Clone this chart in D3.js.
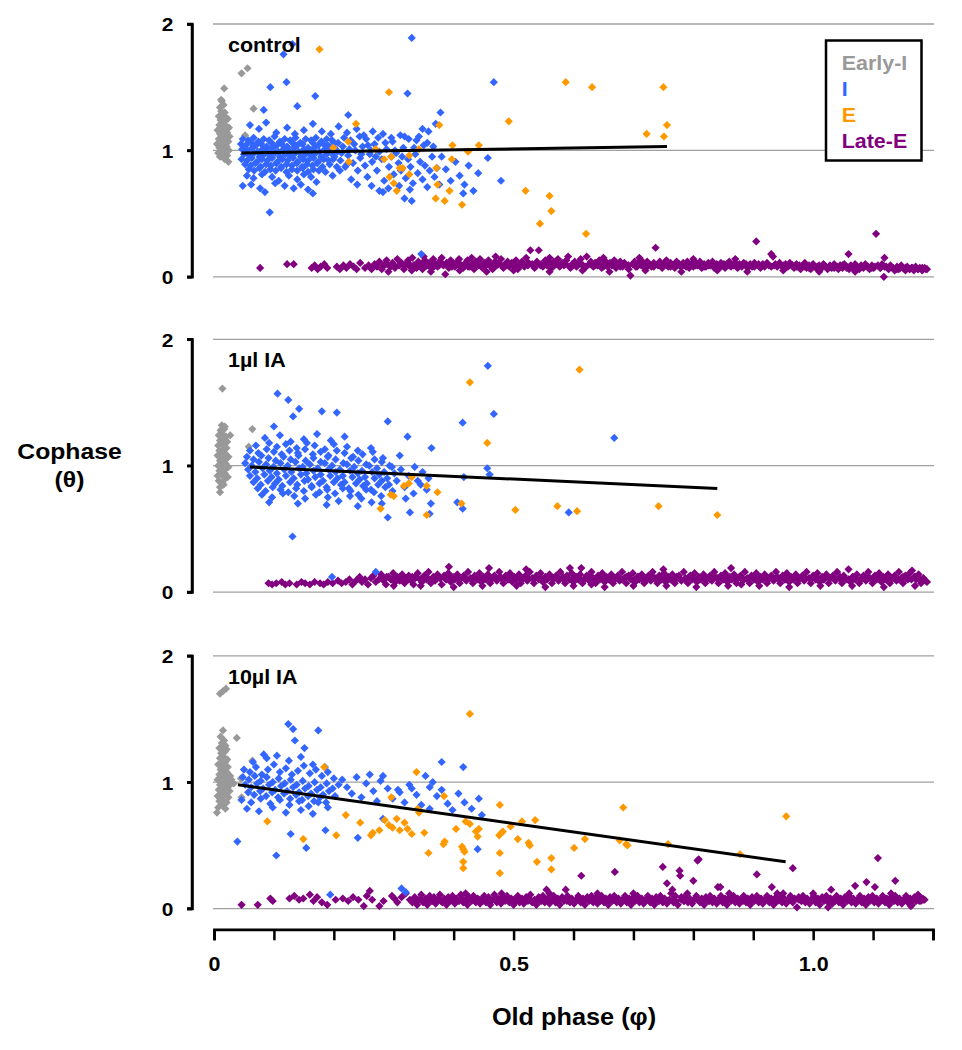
<!DOCTYPE html>
<html>
<head>
<meta charset="utf-8">
<script src="https://cdn.jsdelivr.net/npm/d3@7"></script>
<style>
  html, body { margin: 0; padding: 0; background: #fff; overflow: hidden; }
  svg { display: block; }
  text { font-family: 'Liberation Sans', Arial, sans-serif; font-weight: bold; }
</style>
</head>
<body>
<div id="container"></div>
<script>
// points are written "x,y" : x in thousandths of phase, y in hundredths of cophase
function pairs(s) {
  return s.trim().split(/\s+/).map((p) => {
    const [a, b] = p.split(',');
    return [+a / 1000, +b / 100];
  });
}

const panelNames = ['control', '1µl IA', '10µl IA'];
const seriesNames = ['Early-I', 'I', 'E', 'Late-E'];
const xTicks = [0, 0.1, 0.2, 0.3, 0.4, 0.5, 0.6, 0.7, 0.8, 0.9, 1.0, 1.1, 1.2];
const xTickLabels = { 0: '0', 0.5: '0.5', 1: '1.0' };
const yTicks = [0, 1, 2];

// ---- control ----
const ctrlEarlyI = pairs(`10,95 16,94 22,96 7,98 13,99 19,97 25,100 9,102 15,101 21,103 5,105 12,106
 18,104 24,107 8,109 14,108 20,110 26,111 10,113 16,112 22,114 6,116 12,117 19,115 25,118 9,120 15,121
 21,119 11,124 17,123 23,125 8,127 14,128 20,126 12,131 18,130 10,134 16,136 13,139 12,140 17,149
 46,161 56,165 66,133 24,91 18,93 52,112`);
const ctrlI = pairs(`116,176 131,184 330,189 94,150 121,154 169,143 323,145 139,135 83,132 224,128 378,130
 370,121 348,117 358,115 467,154 479,76 93,51 416,66 330,60 318,62 282,67 276,68 346,18
 60,120 75,117 87,122 104,114 122,118 135,113 150,116 165,121 180,115 195,113 208,119 222,114 238,117
 250,112 265,115 282,113 296,110 311,112 325,109 342,111 356,106 366,103
 48,109 57,108 66,110 74,107 83,109 92,108 101,111 110,107 118,109 127,108 136,110 144,106 153,109
 162,108 170,110 179,107 188,109
 45,105 53,104 62,106 70,104 79,105 88,103 96,106 105,104 113,105 122,103 131,106 139,104 148,105
 157,102 165,106 174,104 183,105 192,103
 47,101 56,100 64,102 73,99 81,101 90,100 98,102 107,99 116,101 124,100 133,102 141,99 150,101
 159,100 167,102 176,99 185,101 194,100
 50,97 59,96 67,98 76,95 84,97 93,96 102,98 110,95 119,97 127,96 136,98 145,95 153,97 162,96
 170,98 179,95 188,97
 46,93 55,92 63,94 72,91 80,93 89,92 97,94 106,91 114,93 123,92 132,94 140,91 149,93 157,92
 166,94 174,91 183,93 191,92
 52,89 61,88 69,90 78,87 87,89 95,88 104,90 112,87 121,89 130,88 138,90 147,87 155,89 164,88
 172,90 181,87
 58,85 67,84 76,86 85,83 94,85 103,84 112,86 121,83 130,85 139,84 148,86 157,83 166,85 175,84
 55,80 66,78 80,81 97,79 108,76 125,80 139,77 150,81 162,79 171,75
 48,72 62,73 77,70 85,67 102,74 118,72 133,70 145,73 157,69 165,66
 190,104 196,98 199,93 203,101 205,87 197,108 193,89 201,95 207,106 213,98 217,110 226,101 234,105
 246,97 254,109 262,100 270,95 286,106 302,100 314,95 334,102 186,83 198,80 210,84 222,89
 200,106 206,99 211,92 215,103 219,87 224,96 228,108 232,90 236,100 240,84 244,94 248,103 252,88
 256,79 260,97 264,91 268,105 272,84 276,99 280,93 284,76 288,101 292,87 296,95 300,81 304,98
 308,90 312,84 316,102 320,78 324,93 328,87 332,74 336,97 340,82 344,91 348,77 352,88 356,71
 360,84 364,95 368,79 372,86 376,73 350,104 338,108 318,111 298,107 274,110 257,104 243,111
 229,77 239,73 263,72 291,70 309,72 327,69 380,95 387,85 395,76 403,91 410,80 418,73 425,88
 433,68 441,82 457,94`);
const ctrlE = pairs(`176,180 292,146 237,121 376,120 199,102 224,107 225,91 270,101 284,93 296,95 342,101
 326,96 310,86 315,86 326,81 293,79 305,68 300,74 371,86 373,73 370,62 385,60 393,68 414,57 398,104
 397,93 424,99 442,104 587,154 631,150 750,150 492,123 722,113 756,120 751,111 520,68 560,64 563,52
 544,42 621,34`);
const ctrlLateE = pairs(`77,7 122,10 133,10 163,7 168,9 173,6 178,8 184,10 189,7 205,8 210,6 216,9 221,7
 227,10 233,8 238,6 244,11 252,7 258,9 263,6 268,10 272,8 276,12 280,6 284,9 288,13 291,4 295,8
 298,11 302,7 306,14 309,9 313,11 317,6 320,10 324,13 327,8 331,15 334,9 338,7 341,12 345,10 348,6
 352,13 355,9 359,11 362,7 366,14 369,10 373,8 376,12 380,15 383,9 386,2 388,11 392,7 395,13 399,10
 402,8 406,12 409,14 413,9 416,7 420,11 423,13 427,8 430,10 434,6 437,12 441,9 444,14 448,7 451,11
 455,10 458,13 462,8 465,6 469,12 472,9 476,11 479,14 483,7 486,10 490,12 493,8 497,11 500,9 504,13
 507,6 511,10 514,12 518,8 521,15 525,11 528,21 532,9 535,7 539,12 542,21 546,10 549,8 553,13 556,9
 560,11 563,7 567,12 570,10 574,14 577,8 581,11 584,9 588,13 591,16 595,7 598,10 602,12 605,8 609,11
 612,14 616,9 619,7 622,16 626,10 629,12 633,8 636,11 640,9 643,13 647,7 650,10 654,12 657,8 661,11
 664,9 668,13 671,7 675,10 678,12 682,8 685,11 689,9 692,6 695,1 699,10 702,12 706,8 709,11 713,13
 716,9 720,7 723,12 727,10 730,8 734,11 737,23 741,9 744,12 748,7 751,10 755,13 758,8 762,11 765,9
 769,7 772,12 776,10 779,8 783,11 786,9 790,12 793,7 797,10 800,8 804,11 807,9 811,12 814,7 818,10
 821,8 825,11 828,9 832,12 835,7 839,10 842,8 846,11 849,9 853,7 856,10 860,12 863,8 867,9 870,11
 874,7 877,10 881,8 884,11 888,9 891,7 895,10 898,8 902,11 905,28 909,9 912,7 916,10 919,8 923,11
 926,9 930,18 933,16 937,10 940,8 944,11 947,9 951,7 954,10 958,8 961,11 965,9 968,7 972,10 975,8
 979,6 982,9 986,11 989,7 993,9 996,6 1000,10 1003,8 1007,6 1010,9 1014,7 1017,10 1021,8 1024,6
 1028,9 1031,7 1035,10 1038,8 1042,6 1045,9 1049,7 1052,10 1056,8 1059,18 1060,6 1063,9 1066,7
 1070,10 1073,8 1077,6 1080,9 1084,7 1087,10 1091,8 1094,6 1098,9 1101,7 1105,34 1108,9 1112,7
 1115,10 1118,0 1119,15 1122,8 1126,6 1129,9 1133,7 1136,5 1140,8 1143,6 1147,9 1150,7 1154,5
 1157,8 1161,6 1164,7 1168,5 1171,8 1175,6 1178,7 1182,5 1186,7 1190,6
 330,5 362,4 410,5 455,4 500,5 560,4 615,5 660,4 720,5 780,4 840,5 890,4 950,5 1010,4 1070,4
 350,16 430,15 470,16 560,15 650,15 710,15 800,14 870,14
 283,9 289,10 297,9 303,8 311,10 317,9 326,10 333,9 339,8 347,10 354,9 361,10 367,8 376,9 382,10
 389,9 397,8 403,10 410,9 419,10 424,8 432,9 439,10 447,9 452,8 461,10 468,9 474,10 482,8 489,9
 495,10 503,9 510,8 515,10 524,9 531,10 536,8 545,9 552,10 557,9 566,8 573,10 578,9 587,10 594,8
 599,9 608,10 615,9 620,8 629,10 636,9 641,10 650,8 657,9 662,10 671,9 678,8 683,10 692,9 699,10
 704,8 713,9 720,10 725,9 734,8 741,10 746,9 755,10 762,8 767,9 776,10 783,9 788,8 797,10 804,9
 809,10 818,8 825,9 830,10 839,9 846,8 851,10 860,9 867,10 872,8 881,9 888,10 893,9 902,8 909,10
 914,9 923,10 930,8 935,9 944,10 951,9 956,8 965,9 972,8 977,9 986,8 993,7 998,9 1007,8 1014,7
 1019,9 1028,8 1035,7 1040,8 1049,9 1056,7 1061,8 1070,8 1077,7 1082,8 1091,8 1098,7 1103,8 1112,7
 1119,8 1124,7 1133,7 1140,6 1145,7 1154,7 1161,6 1166,7 1175,6 1182,7 1188,6`);

// ---- 1µl IA ----
const ia1EarlyI = pairs(`8,88 14,87 19,90 6,92 12,93 18,94 23,91 9,96 15,97 21,98 7,100 13,101 19,102
 24,99 10,104 16,105 22,106 6,108 12,109 18,110 24,107 9,112 15,113 21,114 7,116 13,117 19,118 10,120
 16,121 22,119 8,124 14,125 20,123 11,128 17,129 13,132 18,131 10,83 16,85 14,161 10,79 27,124 64,129
 58,115`);
const ia1I = pairs(`106,157 124,152 142,145 180,143 205,142 132,139 100,131 290,135 323,123 363,114
 415,134 457,179 467,141 668,122 456,98 460,93 592,63 406,71 415,66 417,91 131,44 290,59 327,63
 360,62 197,12 270,16
 85,122 110,124 128,119 150,121 172,125 195,120 218,123
 70,116 92,118 105,115 120,117 138,114 155,118 168,116 185,113 200,117 222,115 240,112 262,114
 60,112 74,110 88,113 100,111 113,109 126,112 140,110 152,113 165,109 178,111 191,108 205,112 218,110
 232,107 248,109 265,111 282,106
 55,107 66,105 79,108 91,106 103,104 116,107 128,105 141,108 153,104 166,106 178,103 190,107 203,105
 216,102 229,106 241,104 254,101 268,105 280,103 293,100
 52,102 63,100 75,103 87,101 99,99 111,102 123,100 136,103 148,99 160,101 173,98 185,102 197,100
 210,97 222,101 234,99 247,96 259,100 272,98 284,95 297,99
 57,97 69,95 81,98 93,96 105,94 117,97 129,95 142,98 154,94 166,96 178,93 191,97 203,95 215,92
 227,96 240,94 252,91 264,95 276,93 289,90 301,94
 60,92 72,90 84,93 96,91 108,89 120,92 133,90 145,93 157,89 169,91 182,88 194,92 206,90 218,87
 231,91 243,89 255,86 268,90 280,88 292,85
 66,87 78,85 90,88 102,86 114,84 127,87 139,85 151,88 163,84 176,86 188,83 200,87 212,85 225,82
 237,86 249,84 262,81 274,85 286,83 298,80
 73,82 86,80 98,83 111,81 124,79 137,82 150,80 163,83 176,79 189,81 202,78 215,82 228,80 241,77
 254,81 267,79 279,76
 80,77 97,75 115,78 134,76 152,74 170,77 190,75 208,72 227,76 246,74 263,71
 92,71 140,70 188,69 240,68 280,70
 305,88 312,97 318,83 325,92 333,78 340,88 348,95 355,81 362,70 310,108 320,74 335,99 345,85 358,90`);
const ia1E = pairs(`427,166 456,118 330,91 317,84 355,84 295,77 300,76 373,79 278,66 355,61 413,70
 610,176 503,65 573,68 606,64 742,68 840,61 325,86`);
const ia1LateE = pairs(`91,7 97,6 104,7 113,8 119,6 126,7 138,6 146,8 152,7 160,6 168,8 177,7 183,6 190,8
 198,7 207,9 213,7 220,8 226,10 231,6 237,9 243,12 247,8 252,10 257,6 262,11 266,13 270,8 275,10
 279,14 283,9 287,6 291,12 295,10 299,15 303,8 306,12 310,9 314,14 318,7 321,11 325,13 329,9 333,6
 336,12 340,15 344,10 347,8 351,13 355,10 358,16 362,7 366,12 369,9 373,14 377,11 380,6 384,13
 388,10 391,15 392,20 395,8 399,12 402,10 406,14 410,7 413,11 417,13 421,9 424,16 428,11 432,7
 435,13 439,10 443,15 446,8 450,12 454,10 457,14 459,19 461,7 465,11 468,13 472,9 476,16 479,11
 483,7 487,13 490,10 494,15 498,8 501,12 505,10 509,14 512,7 516,11 520,13 521,18 523,9 527,16
 531,11 534,7 538,13 542,10 545,15 549,8 553,12 556,10 560,14 564,7 567,11 571,13 575,9 578,16
 582,11 586,7 589,13 593,10 594,19 597,15 600,8 604,12 608,10 611,14 613,19 615,7 619,11 622,13
 626,9 630,16 633,11 637,7 641,13 644,10 648,15 652,8 655,12 659,10 663,14 666,7 670,11 674,13
 677,9 681,16 685,11 688,7 692,13 696,10 699,15 703,8 707,12 710,10 714,14 718,7 721,11 725,13
 729,9 732,16 736,11 740,7 743,13 747,10 750,18 751,15 754,8 758,12 762,10 765,14 769,7 773,11
 776,13 780,9 784,16 787,11 791,7 795,13 798,10 802,15 806,8 809,12 813,10 817,14 820,7 824,11
 828,13 831,9 835,16 839,11 842,7 846,13 850,10 853,15 857,8 861,12 863,19 864,10 868,14 872,7
 875,11 879,13 883,9 886,16 890,11 894,7 897,13 901,10 905,15 908,8 912,12 916,10 919,14 923,7
 927,11 930,13 934,9 938,16 941,11 945,7 949,13 952,10 956,15 960,8 963,12 967,10 971,14 974,7
 978,11 982,13 985,9 989,16 993,11 996,7 1000,13 1004,10 1007,15 1011,8 1015,12 1018,10 1022,14
 1026,7 1029,11 1033,13 1037,9 1040,16 1044,11 1048,7 1051,13 1055,10 1059,18 1062,8 1066,12
 1070,10 1073,14 1077,7 1081,11 1084,13 1088,9 1092,16 1095,11 1099,7 1103,13 1106,10 1110,15
 1114,8 1117,12 1121,10 1125,14 1128,7 1132,11 1136,13 1139,9 1143,16 1147,11 1150,7 1154,13
 1158,10 1161,15 1165,17 1169,12 1172,10 1176,14 1180,7 1184,11 1187,9 1190,8
 300,5 345,5 400,4 448,5 505,5 553,4 600,5 652,4 700,5 755,5 805,4 858,5 910,5 960,4 1012,5
 1065,5 1118,4 1170,5 630,6 880,6
 282,11 288,12 296,10 301,11 310,12 315,11 324,10 331,12 336,11 345,10 352,12 357,11 366,10 373,12
 378,11 387,10 394,12 399,11 408,10 415,12 420,11 429,10 436,12 441,11 450,10 457,12 462,11 471,10
 478,12 483,11 492,10 499,12 504,11 513,10 520,12 525,11 534,10 541,12 546,11 555,10 562,12 567,11
 576,10 583,12 588,11 597,10 604,12 609,11 618,10 625,12 630,11 639,10 646,12 651,11 660,10 667,12
 672,11 681,10 688,12 693,11 702,10 709,12 714,11 723,10 730,12 735,11 744,10 751,12 756,11 765,10
 772,12 777,11 786,10 793,12 798,11 807,10 814,12 819,11 828,10 835,12 840,11 849,10 856,12 861,11
 870,10 877,12 882,11 891,10 898,12 903,11 912,10 919,12 924,11 933,10 940,12 945,11 954,10 961,12
 966,11 975,10 982,12 987,11 996,10 1003,12 1008,11 1017,10 1024,12 1029,11 1038,10 1045,12 1050,11
 1059,10 1066,12 1071,11 1080,10 1087,12 1092,11 1101,10 1108,12 1113,11 1122,10 1129,12 1134,11
 1143,10 1150,12 1155,11 1164,10 1171,12 1176,11 1185,10`);

// ---- 10µl IA ----
const ia10EarlyI = pairs(`7,80 13,82 19,79 9,85 15,86 21,84 6,89 12,90 18,91 24,88 8,94 14,95 20,96 26,93
 10,98 16,99 22,100 6,102 12,103 18,104 24,101 9,106 15,107 21,108 27,105 11,110 17,111 23,112 7,114
 13,115 19,116 10,119 16,120 22,118 12,123 18,124 9,127 15,128 21,126 13,131 17,133 11,136 19,129
 25,97 29,102 33,99 15,172 10,170 20,174 15,141 38,135 64,117 45,103 46,88 5,76`);
const ia10I = pairs(`124,146 132,142 174,141 135,133 151,127 83,122 39,53 104,42 154,48 128,59 186,62
 282,71 240,56 360,79 447,74 440,47 313,16 320,13 194,11 380,116 416,112
 65,116 88,119 105,121 125,117 145,120 165,114 185,112
 50,110 60,108 70,112 80,106 90,110 100,114 110,108 120,111 130,106 140,109 150,113 160,107 170,110
 180,105 190,108 200,103
 48,104 58,102 68,105 78,101 88,104 98,100 108,103 118,99 128,102 138,98 148,101 158,97 168,100
 178,96 188,99 198,95 208,98
 52,98 62,96 72,99 82,95 92,98 102,94 112,97 122,93 132,96 142,92 152,95 162,91 172,94 182,90
 192,93 202,89
 57,92 67,90 77,93 87,89 97,92 107,88 117,91 127,87 137,90 147,86 157,89 167,85 177,88 187,84
 46,86 62,84 78,87 94,83 110,86 126,82 142,85 158,81 174,84 190,80
 55,79 75,77 98,80 120,76 145,78 165,75
 214,102 222,96 230,91 238,104 246,88 254,99 260,106 266,93 272,85 278,101 282,105 290,95 298,87
 307,94 310,92 318,84 326,98 330,95 338,90 346,82 353,105 360,96 365,100 372,89 380,94 390,83
 398,78 408,91 418,84 430,79 442,87`);
const ia10E = pairs(`427,154 184,112 338,108 384,89 296,88 89,69 220,74 244,68 149,55 204,58 265,60
 285,70 292,66 298,64 305,71 310,62 318,68 323,63 330,59 351,60 340,79 342,76 358,44 383,51 385,53
 404,63 414,49 416,47 418,45 416,37 416,32 420,69 427,67 437,61 440,57 477,82 442,63 480,60 482,61
 476,58 495,65 514,69 536,70 507,55 525,52 527,50 477,44 477,28 539,37 563,40 563,31 601,48 619,55
 683,80 677,54 688,51 690,50 758,51 878,43 955,73 276,62 262,58`);
const ia10LateE = pairs(`46,3 73,3 94,8 98,6 126,8 134,10 142,7 149,8 160,11 166,6 172,9 180,5 189,3
 203,7 215,8 224,6 232,9 241,7 250,2 255,10 260,14 264,7 276,2 283,6 297,10 301,8 306,5 313,9
 320,12 327,7 331,5 335,9 339,3 342,7 346,11 349,5 353,8 356,3 360,10 363,6 367,9 370,4 374,7
 377,11 381,5 384,8 388,3 391,9 395,6 398,10 402,4 405,8 409,6 412,11 416,5 419,7 423,3 426,9
 430,6 433,10 437,5 440,8 444,4 447,7 451,10 454,5 458,9 461,3 465,7 468,11 472,5 475,8 479,4
 482,9 486,6 489,10 493,5 496,8 500,3 503,7 507,10 510,5 514,8 517,4 521,9 524,6 528,11 531,5
 535,7 538,3 542,9 545,6 549,10 552,5 555,15 557,8 560,4 564,7 567,10 570,5 574,8 577,3 581,9
 584,6 587,15 590,10 594,5 597,8 601,4 605,7 608,10 612,5 613,26 616,8 619,3 623,9 626,6 630,10
 633,5 637,8 640,4 644,7 647,10 651,5 654,8 658,3 661,9 665,6 668,10 669,29 672,5 675,8 679,4
 682,7 686,10 689,5 693,8 696,3 700,9 703,6 707,10 710,5 714,8 717,4 721,7 724,10 728,5 731,8
 735,3 738,9 742,6 745,10 749,5 749,33 752,8 756,4 756,20 760,7 763,12 765,15 767,5 770,10 774,3
 777,30 778,26 780,9 784,6 787,10 791,5 794,8 798,4 800,22 801,7 805,10 807,38 809,39 811,5 814,8
 818,3 821,9 825,6 828,10 832,5 835,8 839,4 841,17 845,17 842,7 846,10 849,5 853,8 856,3 860,9
 863,6 867,10 870,5 874,8 877,4 881,7 884,10 888,5 891,8 895,3 898,9 902,6 906,27 906,10 909,5
 913,8 916,4 920,7 923,10 927,5 931,17 930,8 934,3 938,9 941,6 945,10 948,5 950,12 952,8 955,4
 959,7 962,10 966,32 966,5 969,8 973,1 976,9 980,6 983,10 987,5 990,8 994,4 997,7 1001,10 1004,5
 1008,8 1011,3 1015,9 1018,6 1022,10 1025,1 1026,5 1029,8 1030,15 1032,4 1036,7 1039,10 1043,5
 1046,8 1050,3 1053,9 1057,6 1060,10 1064,5 1067,8 1070,18 1071,4 1074,7 1078,10 1081,5 1085,8
 1089,21 1088,3 1092,9 1095,6 1099,10 1103,17 1102,5 1106,8 1108,40 1109,4 1113,7 1116,10 1120,5
 1123,8 1127,3 1130,9 1134,6 1137,22 1137,10 1141,5 1144,8 1148,4 1151,7 1155,10 1158,5 1162,8
 1163,2 1165,3 1169,9 1172,6 1175,11 1176,10 1180,6 1183,8 1186,7
 420,12 480,12 560,12 640,12 700,12 790,12 860,12 940,12 1000,12 1060,12 1130,12
 332,7 338,6 346,7 351,6 360,7 365,6 374,7 379,6 388,7 393,6 402,7 407,6 416,7 421,6 430,7 435,6
 444,7 449,6 458,7 463,6 472,7 477,6 486,7 491,6 500,7 505,6 514,7 519,6 528,7 533,6 542,7 547,6
 556,7 561,6 570,7 575,6 584,7 589,6 598,7 603,6 612,7 617,6 626,7 631,6 640,7 645,6 654,7 659,6
 668,7 673,6 682,7 687,6 696,7 701,6 710,7 715,6 724,7 729,6 738,7 743,6 752,7 757,6 766,7 771,6
 780,7 785,6 794,7 799,6 808,7 813,6 822,7 827,6 836,7 841,6 850,7 855,6 864,7 869,6 878,7 883,6
 892,7 897,6 906,7 911,6 920,7 925,6 934,7 939,6 948,7 953,6 962,7 967,6 976,7 981,6 990,7 995,6
 1004,7 1009,6 1018,7 1023,6 1032,7 1037,6 1046,7 1051,6 1060,7 1065,6 1074,7 1079,6 1088,7 1093,6
 1102,7 1107,6 1116,7 1121,6 1130,7 1135,6 1144,7 1149,6 1158,7 1163,6 1172,7 1177,6 1184,7`);

// linear fits: [x start, x end], [y start, y end]
const trendX = [[0.046, 0.756], [0.06, 0.84], [0.04, 0.954]];
const trendY = [[0.98, 1.03], [0.99, 0.82], [0.98, 0.37]];

const panelData = [
  [ctrlEarlyI, ctrlI, ctrlE, ctrlLateE],
  [ia1EarlyI, ia1I, ia1E, ia1LateE],
  [ia10EarlyI, ia10I, ia10E, ia10LateE],
];

// ---------- layout ----------
const w = 962,
  h = 1050;
const colors = ['#999999', '#3366ff', '#ff9900', '#800080'];
const drawOrder = [3, 0, 1, 2];
const panelTop = [24, 339.3, 655.8];
const panelH = 252.8;
const axisX = 192;
const stretch = 'scale(1.1,1)';
const r = 4.1;
const diamond = `M0,${-r}L${r},0L0,${r}L${-r},0Z`;

const svg = d3.select('#container').append('svg').attr('width', w).attr('height', h);

const x = d3.scaleLinear().domain([0, 1.2]).range([214, 933]);
const yScales = panelTop.map((t) => d3.scaleLinear().domain([0, 2]).range([t + panelH, t]));

function label(str, tx, ty, size, anchor, color) {
  svg
    .append('text')
    .text(str)
    .attr('transform', 'translate(' + tx + ',' + ty + ') ' + stretch)
    .attr('text-anchor', anchor)
    .attr('font-size', size)
    .attr('fill', color || '#000');
}

// y axis spines first, as one path per panel (spine plus left ticks)
yScales.forEach((y) => {
  const d =
    'M' + (axisX - 5) + ',' + y(2) + 'H' + axisX + 'V' + y(0) + 'H' + (axisX - 5) +
    'M' + (axisX - 5) + ',' + y(1) + 'H' + axisX;
  svg
    .append('path')
    .attr('d', d)
    .attr('fill', 'none')
    .attr('stroke', '#000')
    .attr('stroke-width', 2.5);
});

panelData.forEach((series, p) => {
  const y = yScales[p];
  const g = svg.append('g');

  g.selectAll('line.grid')
    .data(yTicks)
    .enter()
    .append('line')
    .attr('class', 'grid')
    .attr('x1', 213)
    .attr('x2', 934)
    .attr('y1', (d) => y(d))
    .attr('y2', (d) => y(d))
    .attr('stroke', '#a0a0a0')
    .attr('stroke-width', 1.3);

  drawOrder.forEach((s) => {
    g.append('g')
      .selectAll('path')
      .data(series[s])
      .enter()
      .append('path')
      .attr('d', diamond)
      .attr('transform', (d) => 'translate(' + x(d[0]) + ',' + y(d[1]) + ')')
      .attr('fill', colors[s]);
  });

  g.append('line')
    .attr('x1', x(trendX[p][0]))
    .attr('x2', x(trendX[p][1]))
    .attr('y1', y(trendY[p][0]))
    .attr('y2', y(trendY[p][1]))
    .attr('stroke', '#000')
    .attr('stroke-width', 3);

  label(panelNames[p], 228, panelTop[p] + 27.7, 19.5, 'start');
});

// y axis labels and ticks from d3
yScales.forEach((y) => {
  const yAxis = d3
    .axisLeft(y)
    .tickValues(yTicks)
    .tickFormat(d3.format('d'))
    .tickSize(5)
    .tickSizeOuter(5)
    .tickPadding(12);
  const ya = svg.append('g').attr('transform', 'translate(' + axisX + ',0)').call(yAxis);
  ya.select('.domain').attr('stroke', '#000').attr('stroke-width', 2.5);
  ya.selectAll('.tick line').attr('stroke', '#000').attr('stroke-width', 2.5);
  ya.selectAll('text')
    .attr('font-size', 19)
    .attr('fill', '#000')
    .attr('dy', 6.8)
    .attr('transform', stretch)
    .attr('font-family', "'Liberation Sans', Arial, sans-serif");
});

// x axis under the last panel
const xAxis = d3
  .axisBottom(x)
  .tickValues(xTicks)
  .tickFormat((d) => xTickLabels[Math.round(d * 10) / 10] || '')
  .tickSize(11)
  .tickSizeOuter(11);
const xa = svg.append('g').attr('transform', 'translate(0,929.3)').call(xAxis);
xa.select('.domain').attr('stroke', '#000').attr('stroke-width', 2.8);
xa.selectAll('.tick line').attr('stroke', '#000').attr('stroke-width', 2.5);
xa.selectAll('text')
  .attr('font-size', 19.5)
  .attr('fill', '#000')
  .attr('y', 41.4)
  .attr('dy', 0)
  .attr('transform', stretch)
  .attr('font-family', "'Liberation Sans', Arial, sans-serif");

label('Old phase (φ)', 574, 1025, 23, 'middle');
label('Cophase', 69.5, 459.3, 22.5, 'middle');
label('(θ)', 69.5, 487, 22.5, 'middle');

// legend
svg
  .append('rect')
  .attr('x', 826)
  .attr('y', 40.5)
  .attr('width', 95.5)
  .attr('height', 120)
  .attr('fill', '#fff')
  .attr('stroke', '#000')
  .attr('stroke-width', 2.5);
seriesNames.forEach((n, i) => {
  label(n, 841.7, 70 + i * 25.9, 19.5, 'start', colors[i]);
});
</script>
</body>
</html>
